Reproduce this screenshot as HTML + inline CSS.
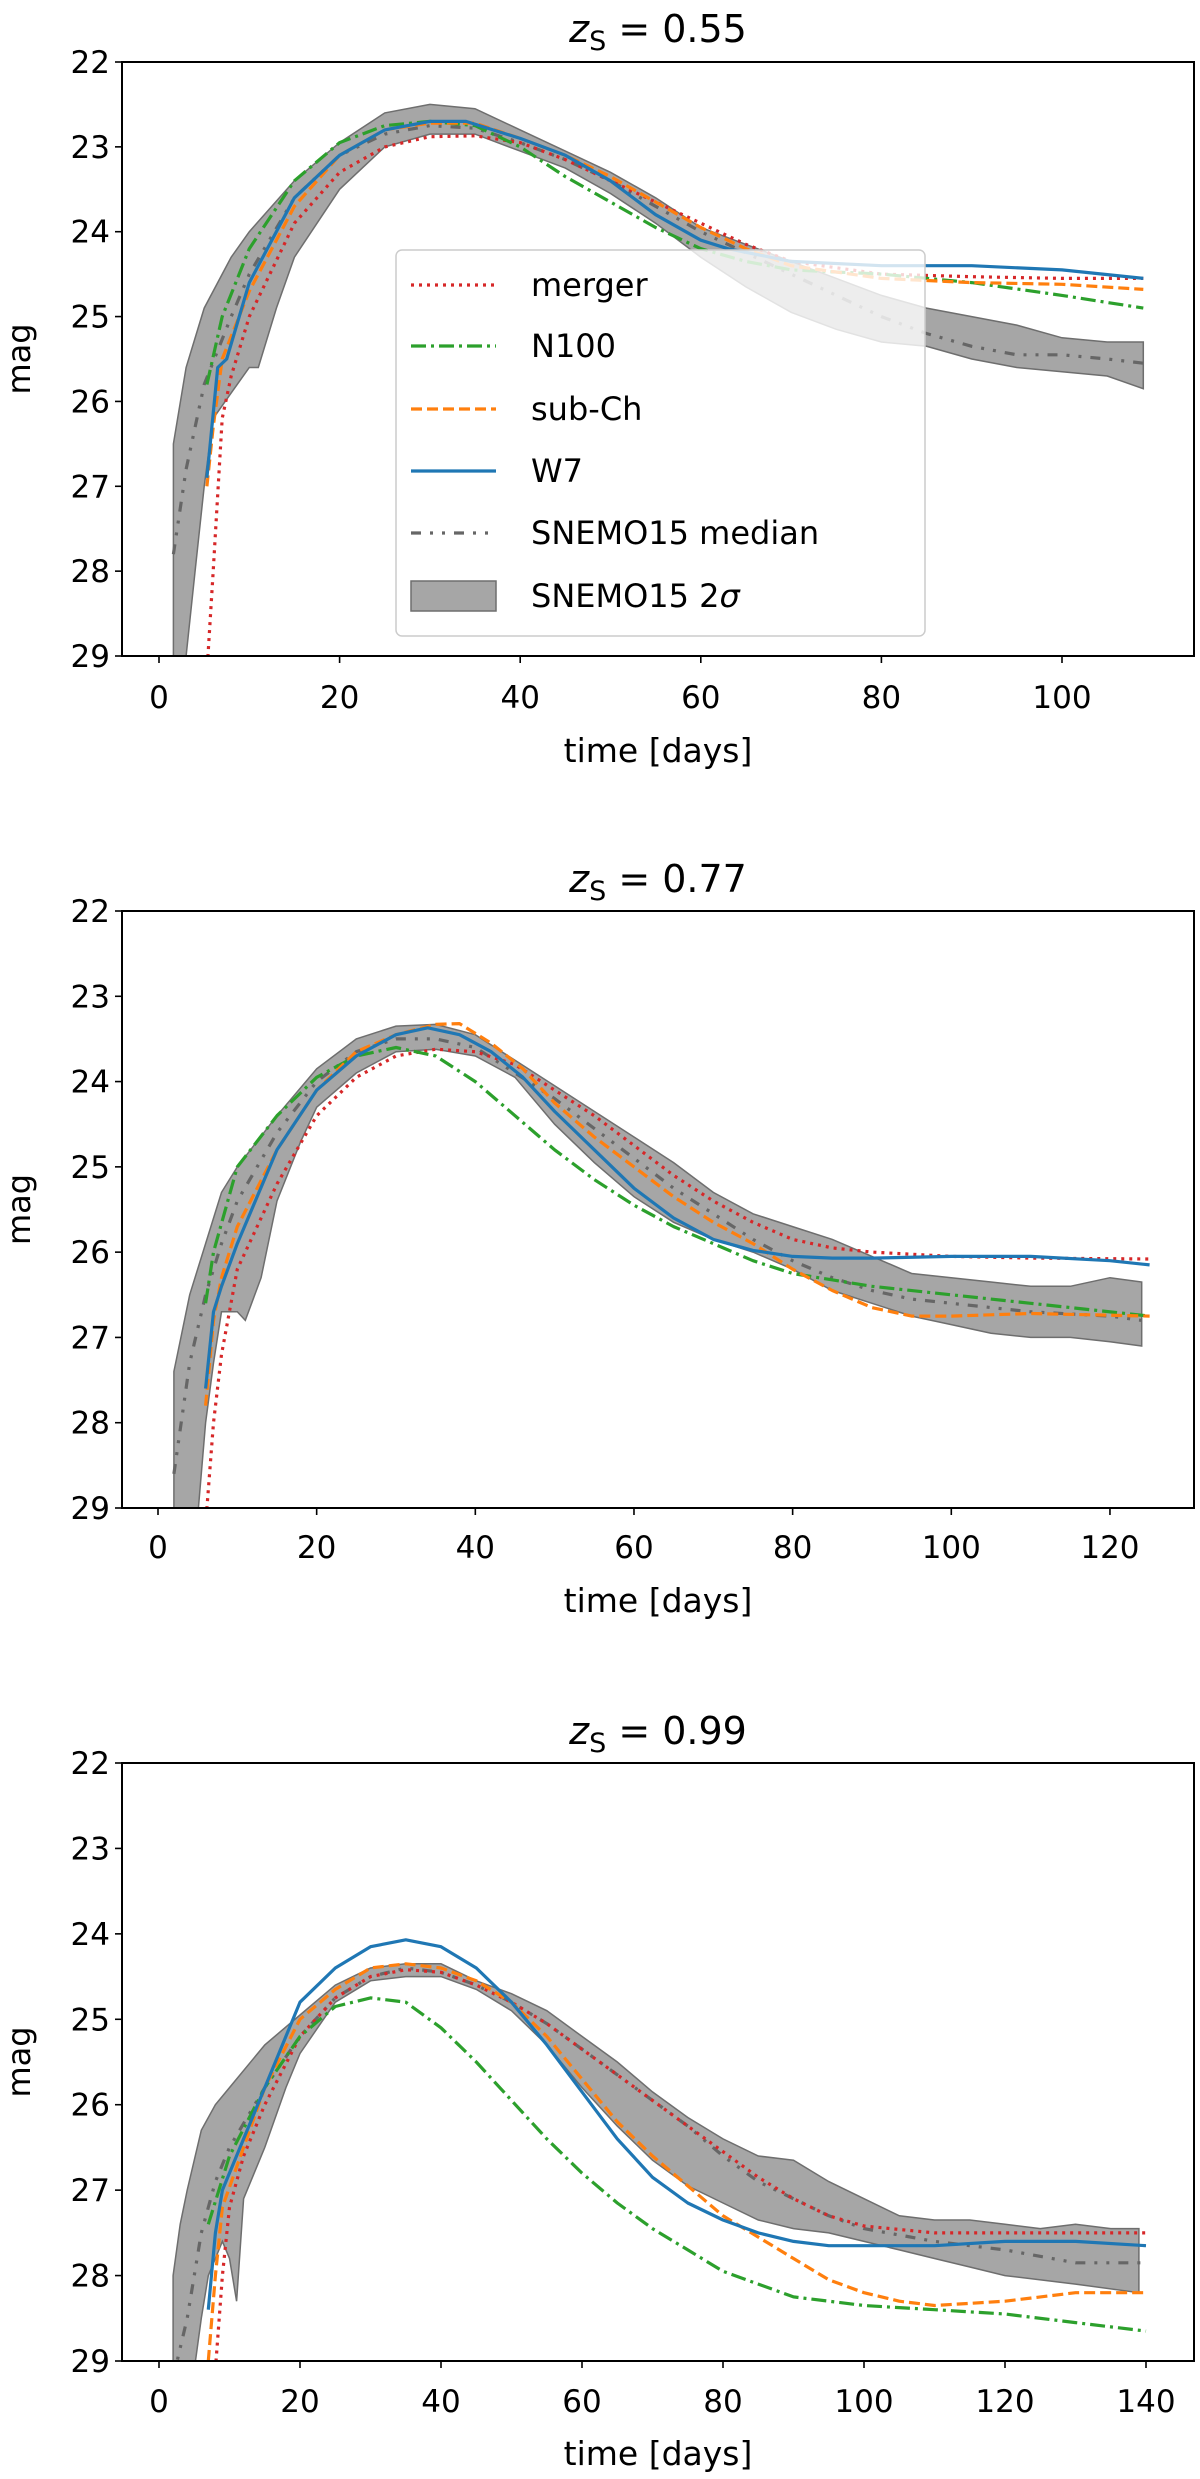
<!DOCTYPE html>
<html><head><meta charset="utf-8">
<style>
html,body{margin:0;padding:0;background:#fff;}
svg{display:block;font-family:"DejaVu Sans","Liberation Sans",sans-serif;}
</style></head>
<body>
<svg id="chart" width="1200" height="2479" viewBox="0 0 1200 2479" xmlns="http://www.w3.org/2000/svg"></svg>
<script>
// ---- Panel 1 data (z=0.55) ----
const p1W7 = [[5.3,26.9],[6.5,25.6],[7.5,25.5],[10,24.6],[15,23.6],[20,23.1],[25,22.8],[30,22.7],[34,22.7],[40,22.9],[45,23.1],[50,23.4],[55,23.8],[60,24.1],[63,24.2],[70,24.35],[80,24.4],[90,24.4],[100,24.45],[109,24.55]];
const p1Merger = [[5.3,29.2],[6,28],[7,26.2],[8,25.7],[10,25],[15,23.9],[20,23.3],[25,23],[30,22.88],[35,22.87],[40,22.95],[45,23.15],[50,23.4],[55,23.65],[60,23.9],[65,24.15],[70,24.35],[80,24.5],[90,24.53],[100,24.55],[109,24.55]];
const p1N100 = [[5.3,25.8],[7,25],[10,24.2],[15,23.4],[20,22.95],[25,22.75],[30,22.7],[35,22.75],[40,23.0],[45,23.35],[50,23.65],[55,23.95],[60,24.2],[65,24.35],[70,24.45],[80,24.5],[90,24.6],[100,24.75],[109,24.9]];
const p1SubCh = [[5.3,27],[6,26.3],[7,25.5],[10,24.7],[15,23.7],[20,23.1],[25,22.8],[30,22.72],[35,22.72],[40,22.9],[45,23.1],[50,23.35],[55,23.65],[60,23.95],[65,24.2],[70,24.4],[80,24.55],[90,24.6],[100,24.62],[109,24.68]];
const p1Median = [[1.6,27.8],[3,26.8],[5,25.8],[8,25],[10,24.5],[15,23.6],[20,23.1],[25,22.85],[30,22.75],[35,22.78],[40,22.95],[45,23.15],[50,23.4],[55,23.7],[60,24.0],[65,24.25],[70,24.5],[75,24.75],[80,25.0],[85,25.2],[90,25.35],[95,25.45],[100,25.45],[105,25.5],[109,25.55]];
const p1BandUp = [[1.6,26.5],[3,25.6],[5,24.9],[8,24.3],[10,24.0],[15,23.4],[20,22.95],[25,22.6],[30,22.5],[35,22.55],[40,22.8],[45,23.05],[50,23.3],[55,23.6],[60,23.95],[65,24.15],[70,24.35],[75,24.55],[80,24.75],[85,24.9],[90,25.0],[95,25.1],[100,25.25],[105,25.3],[109,25.3]];
const p1BandLo = [[1.6,29.1],[3,29],[4,28],[5,27],[6,26.2],[8,25.9],[10,25.6],[11,25.6],[13,24.9],[15,24.3],[20,23.5],[25,23.0],[30,22.85],[35,22.85],[40,23.05],[45,23.25],[50,23.55],[55,23.9],[60,24.3],[65,24.65],[70,24.95],[75,25.15],[80,25.3],[85,25.35],[90,25.5],[95,25.6],[100,25.65],[105,25.7],[109,25.85]];
const p1XTicks = [0,20,40,60,80,100];

// ---- Panel 2 data (z=0.77) ----
const p2W7 = [[6,27.6],[7,26.7],[8,26.4],[10,25.9],[15,24.8],[20,24.1],[25,23.7],[30,23.45],[34,23.37],[38,23.45],[42,23.65],[46,23.95],[50,24.35],[55,24.8],[60,25.25],[65,25.6],[70,25.85],[75,25.98],[80,26.05],[85,26.07],[90,26.07],[100,26.05],[110,26.05],[120,26.1],[125,26.15]];
const p2Merger = [[6,29.2],[7,28],[8,27.2],[10,26.2],[15,25.2],[20,24.4],[25,23.95],[30,23.7],[35,23.62],[40,23.65],[45,23.8],[50,24.1],[55,24.4],[60,24.75],[65,25.1],[70,25.4],[75,25.65],[80,25.85],[85,25.95],[90,26.0],[100,26.05],[110,26.07],[125,26.08]];
const p2N100 = [[6,26.6],[7,26],[10,25],[15,24.4],[20,23.95],[25,23.7],[30,23.6],[35,23.7],[40,24.0],[45,24.4],[50,24.8],[55,25.15],[60,25.45],[65,25.7],[70,25.9],[75,26.1],[80,26.25],[90,26.4],[100,26.5],[110,26.6],[125,26.75]];
const p2SubCh = [[6,27.8],[7,26.8],[8,26.3],[10,25.7],[15,24.8],[20,24.1],[25,23.65],[30,23.45],[35,23.33],[38,23.32],[42,23.55],[46,23.85],[50,24.25],[55,24.65],[60,25.0],[65,25.35],[70,25.65],[75,25.9],[80,26.2],[85,26.45],[90,26.65],[95,26.75],[100,26.75],[110,26.72],[125,26.75]];
const p2Median = [[2,28.6],[4,27.3],[6,26.5],[8,25.9],[10,25.4],[15,24.6],[20,24.0],[25,23.65],[30,23.5],[35,23.5],[40,23.6],[45,23.9],[50,24.2],[55,24.55],[60,24.9],[65,25.25],[70,25.55],[75,25.85],[80,26.1],[85,26.3],[90,26.45],[95,26.55],[100,26.6],[110,26.7],[120,26.75],[124,26.8]];
const p2BandUp = [[2,27.4],[4,26.5],[6,25.9],[8,25.3],[10,25.0],[15,24.4],[20,23.85],[25,23.5],[30,23.35],[35,23.33],[40,23.45],[45,23.75],[50,24.05],[55,24.35],[60,24.65],[65,24.95],[70,25.3],[75,25.55],[80,25.7],[85,25.85],[90,26.05],[95,26.25],[100,26.3],[105,26.35],[110,26.4],[115,26.4],[120,26.3],[124,26.35]];
const p2BandLo = [[2,29.1],[5,29.1],[6,28.0],[7,27.3],[8,26.7],[10,26.7],[11,26.8],[13,26.3],[15,25.4],[18,24.7],[20,24.3],[25,23.9],[30,23.65],[35,23.62],[40,23.7],[45,23.95],[50,24.5],[55,24.95],[60,25.35],[65,25.65],[70,25.85],[75,26.0],[80,26.2],[85,26.45],[90,26.6],[95,26.75],[100,26.85],[105,26.95],[110,27.0],[115,27.0],[120,27.05],[124,27.1]];
const p2XTicks = [0,20,40,60,80,100,120];

// ---- Panel 3 data (z=0.99) ----
const p3W7 = [[7,28.4],[8,27.5],[9,27.0],[12,26.4],[15,25.8],[20,24.8],[25,24.4],[30,24.15],[35,24.07],[40,24.15],[45,24.4],[50,24.8],[55,25.3],[60,25.85],[65,26.4],[70,26.85],[75,27.15],[80,27.35],[85,27.5],[90,27.6],[95,27.65],[100,27.65],[110,27.65],[120,27.6],[130,27.6],[140,27.65]];
const p3Merger = [[8,29.1],[9,28],[10,27.2],[12,26.6],[15,26.0],[20,25.2],[25,24.75],[30,24.5],[35,24.42],[40,24.45],[45,24.6],[50,24.8],[55,25.05],[60,25.35],[65,25.65],[70,25.95],[75,26.25],[80,26.55],[85,26.85],[90,27.1],[95,27.3],[100,27.42],[110,27.5],[120,27.5],[130,27.5],[140,27.5]];
const p3N100 = [[7,27.4],[10,26.6],[15,25.8],[20,25.2],[25,24.85],[30,24.75],[35,24.8],[40,25.1],[45,25.5],[50,25.95],[55,26.4],[60,26.8],[65,27.15],[70,27.45],[75,27.7],[80,27.95],[85,28.1],[90,28.25],[100,28.35],[110,28.4],[120,28.45],[130,28.55],[140,28.65]];
const p3SubCh = [[7,29],[8,28],[9,27.2],[12,26.5],[15,25.8],[20,25.0],[25,24.65],[30,24.4],[35,24.35],[40,24.4],[45,24.55],[50,24.8],[55,25.2],[60,25.7],[65,26.2],[70,26.6],[75,26.95],[80,27.3],[85,27.55],[90,27.8],[95,28.05],[100,28.2],[105,28.3],[110,28.35],[120,28.3],[130,28.2],[140,28.2]];
const p3Median = [[2,29.2],[4,28.5],[6,27.5],[8,26.9],[10,26.5],[15,25.8],[20,25.2],[25,24.75],[30,24.5],[35,24.4],[40,24.45],[45,24.6],[50,24.8],[55,25.05],[60,25.35],[65,25.65],[70,25.95],[75,26.25],[80,26.6],[85,26.9],[90,27.1],[95,27.3],[100,27.45],[110,27.6],[120,27.7],[130,27.85],[140,27.85]];
const p3BandUp = [[2,28],[3,27.4],[4,27],[6,26.3],[8,26],[10,25.8],[15,25.3],[20,24.95],[25,24.6],[30,24.4],[35,24.35],[40,24.35],[45,24.55],[50,24.7],[55,24.9],[60,25.2],[65,25.5],[70,25.85],[75,26.15],[80,26.4],[85,26.6],[90,26.65],[95,26.9],[100,27.1],[105,27.3],[110,27.35],[115,27.35],[120,27.4],[125,27.45],[130,27.4],[135,27.45],[139,27.45]];
const p3BandLo = [[2,29.1],[5,29.1],[6,28.5],[7,28],[8,27.8],[9,27.6],[10,27.8],[11,28.3],[12,27.1],[15,26.5],[18,25.8],[20,25.4],[25,24.8],[30,24.55],[35,24.5],[40,24.5],[45,24.65],[50,24.9],[55,25.3],[60,25.8],[65,26.25],[70,26.65],[75,26.95],[80,27.15],[85,27.35],[90,27.45],[95,27.5],[100,27.6],[105,27.7],[110,27.8],[115,27.9],[120,28.0],[130,28.1],[139,28.2]];
const p3XTicks = [0,20,40,60,80,100,120,140];

const yTicks = [22,23,24,25,26,27,28,29];
const titles = ["0.55","0.77","0.99"];
const legendLabels = ["merger","N100","sub-Ch","W7","SNEMO15 median"];

const NS = "http://www.w3.org/2000/svg";
const svg = document.getElementById('chart');
function mk(tag, attrs, parent){
  const e = document.createElementNS(NS, tag);
  for (const k in attrs) e.setAttribute(k, attrs[k]);
  (parent||svg).appendChild(e);
  return e;
}
const styles = {
  merger:{stroke:'#d62728',dash:'3 5'},
  n100:{stroke:'#2ca02c',dash:'15 5 3 5'},
  subch:{stroke:'#ff7f0e',dash:'11 5'},
  w7:{stroke:'#1f77b4',dash:''},
  median:{stroke:'#666666',dash:'10 9 3 9 3 9'}
};
const panels = [
  {top:62,bottom:656,x0:159,xs:9.03,ticks:p1XTicks,title:titles[0],tY:42,tickY:708,xlY:762,
   series:{merger:p1Merger,n100:p1N100,subch:p1SubCh,w7:p1W7,median:p1Median},up:p1BandUp,lo:p1BandLo,legend:true},
  {top:911,bottom:1508,x0:158,xs:7.933,ticks:p2XTicks,title:titles[1],tY:892,tickY:1558,xlY:1612,
   series:{merger:p2Merger,n100:p2N100,subch:p2SubCh,w7:p2W7,median:p2Median},up:p2BandUp,lo:p2BandLo},
  {top:1763,bottom:2361,x0:159,xs:7.05,ticks:p3XTicks,title:titles[2],tY:1744,tickY:2412,xlY:2465,
   series:{merger:p3Merger,n100:p3N100,subch:p3SubCh,w7:p3W7,median:p3Median},up:p3BandUp,lo:p3BandLo}
];
const L=122, R=1194;
panels.forEach((p,i)=>{
  const xS = d => p.x0 + d*p.xs;
  const yS = m => p.top + (m-22)*(p.bottom-p.top)/7;
  const g = mk('g',{});
  
  
  const cid='clip'+i;
  const cp = mk('clipPath',{id:cid},g);
  mk('rect',{x:L,y:p.top,width:R-L,height:p.bottom-p.top},cp);
  const plot = mk('g',{'clip-path':'url(#'+cid+')'},g);
  const pts = p.up.map(q=>xS(q[0]).toFixed(1)+','+yS(q[1]).toFixed(1))
    .concat(p.lo.slice().reverse().map(q=>xS(q[0]).toFixed(1)+','+yS(q[1]).toFixed(1)));
  const band = mk('polygon',{points:pts.join(' '),fill:'#808080','fill-opacity':'0.7',stroke:'#6e6e6e','stroke-width':'1.5'},plot);
  
  
  ['median','merger','n100','subch','w7'].forEach(k=>{
    const d = p.series[k].map((q,j)=>(j?'L':'M')+xS(q[0]).toFixed(1)+','+yS(q[1]).toFixed(1)).join('');
    const st = styles[k];
    const path = mk('path',{d:d,fill:'none',stroke:st.stroke,'stroke-width':'3.2','stroke-dasharray':st.dash,'stroke-linejoin':'round'},plot);
    
    
  });
  mk('rect',{x:L,y:p.top,width:R-L,height:p.bottom-p.top,fill:'none',stroke:'#000','stroke-width':'2'},g);
  yTicks.forEach(t=>{
    const y=yS(t);
    mk('line',{x1:L-7,x2:L,y1:y,y2:y,stroke:'#000','stroke-width':'1.6'},g);
    const tx=mk('text',{x:L-12,y:y+11,'text-anchor':'end','font-size':'31',fill:'#000'},g);
    tx.textContent=t;
    
    
  });
  p.ticks.forEach(t=>{
    const x=xS(t);
    mk('line',{x1:x,x2:x,y1:p.bottom,y2:p.bottom+7,stroke:'#000','stroke-width':'1.6'},g);
    const tx=mk('text',{x:x,y:p.tickY,'text-anchor':'middle','font-size':'31',fill:'#000'},g);
    tx.textContent=t;
    
    
  });
  const xl=mk('text',{x:(L+R)/2,y:p.xlY,'text-anchor':'middle','font-size':'33',fill:'#000'},g);
  xl.textContent='time [days]';
  
  
  const cy=(p.top+p.bottom)/2;
  const yl=mk('text',{x:30,y:cy,'text-anchor':'middle','font-size':'32',fill:'#000',transform:'rotate(-90 30 '+cy+')'},g);
  yl.textContent='mag';
  
  
  const tt=mk('text',{x:(L+R)/2,y:p.tY,'text-anchor':'middle','font-size':'38',fill:'#000'},g);
  
  
  const t1=mk('tspan',{'font-style':'italic'},tt); t1.textContent='z';
  const t2=mk('tspan',{'font-size':'27',dy:'8'},tt); t2.textContent='S';
  const t3=mk('tspan',{dy:'-8'},tt); t3.textContent=' = '+p.title;
  if(p.legend){
    const lg=mk('g',{},g);
    
    
    mk('rect',{x:396,y:250,width:529,height:386,rx:6,fill:'#fff','fill-opacity':'0.8',stroke:'#ccc','stroke-width':'1.5'},lg);
    const keys=['merger','n100','subch','w7','median'];
    const ys=[285,346,409,471,533];
    keys.forEach((k,j)=>{
      const st=styles[k];
      mk('line',{x1:411,x2:496,y1:ys[j],y2:ys[j],stroke:st.stroke,'stroke-width':'3.2','stroke-dasharray':st.dash},lg);
      const tx=mk('text',{x:531,y:ys[j]+11,'font-size':'32',fill:'#000'},lg);
      tx.textContent=legendLabels[j];
      
      
    });
    mk('rect',{x:411,y:581,width:85,height:30,fill:'#808080','fill-opacity':'0.7',stroke:'#6e6e6e','stroke-width':'1.5'},lg);
    const tx=mk('text',{x:531,y:607,'font-size':'32',fill:'#000'},lg);
    
    
    const a=mk('tspan',{},tx); a.textContent='SNEMO15 2';
    const b=mk('tspan',{'font-style':'italic'},tx); b.textContent='σ';
  }
});
</script>
</body></html>
